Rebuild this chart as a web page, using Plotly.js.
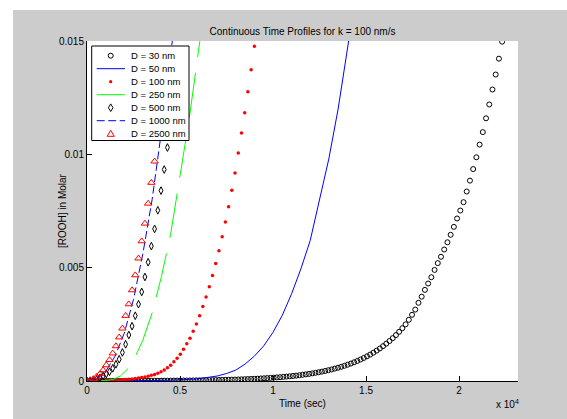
<!DOCTYPE html>
<html><head><meta charset="utf-8">
<script src="https://cdn.plot.ly/plotly-3.0.1.min.js"></script>
<style>
html,body{margin:0;padding:0;background:#fff;width:567px;height:419px;overflow:hidden;}
#chart{position:absolute;left:13px;top:10px;width:554px;height:409px;}
</style></head><body><div id="chart"></div>
<script>
// ---- data (time in seconds, [ROOH] in Molar) ----
const SEC_PER_STEP = 173;
const diameterLabels = ['D = 30 nm','D = 50 nm','D = 100 nm','D = 250 nm','D = 500 nm','D = 1000 nm','D = 2500 nm'];
const xTickVals = [0, 5000, 10000, 15000, 20000];
const xTickText = ['0','0.5','1','1.5','2'];
const yTickVals = [0, 0.005, 0.01, 0.015];
const yTickText = ['0','0.005','0.01','0.015'];

const rooh_D30 = [0,0.0000005,0.000001,0.000001,0.000001,0.000001,0.000002,0.000002,0.000002,0.000003,
0.000003,0.000004,0.000004,0.000005,0.000005,0.000006,0.000006,0.000007,0.000008,0.000008,
0.000009,0.00001,0.000011,0.000012,0.000013,0.000014,0.000015,0.000017,0.000018,0.000019,
0.000021,0.000022,0.000024,0.000026,0.000028,0.00003,0.000032,0.000034,0.000037,0.00004,
0.000042,0.000045,0.000049,0.000052,0.000056,0.00006,0.000064,0.000069,0.000074,0.000079,
0.000085,0.000091,0.000097,0.000104,0.000112,0.00012,0.000128,0.000137,0.000147,0.000158,
0.000169,0.000181,0.000194,0.000208,0.000222,0.000238,0.000255,0.000274,0.000293,0.000314,
0.000337,0.000361,0.000386,0.000414,0.000444,0.000475,0.000509,0.000546,0.000585,0.000627,
0.000671,0.000719,0.000771,0.000826,0.000885,0.000948,0.001016,0.001088,0.001166,0.001249,
0.001339,0.001434,0.001537,0.001647,0.001764,0.00189,0.002025,0.00217,0.00233,0.0025,
0.0027,0.00292,0.00315,0.00345,0.00372,0.00402,0.0043,0.00458,0.0049,0.0052,
0.00548,0.0058,0.00612,0.00645,0.0068,0.00717,0.00752,0.00789,0.00836,0.00884,
0.00935,0.00987,0.01043,0.01098,0.01159,0.0122,0.01286,0.01352,0.01422,0.01497];

const t_D50 = [0,2000,3000,4000,5000,6000,7000,7500,8000,8500,9000,9500,10000,10500,11000,11500,12000,12500,13000,13500,14000,14500];
const rooh_D50 = [0,0.000003,0.00001,0.000025,0.00005,0.0001,0.00022,0.00033,0.00048,0.00075,0.0011,0.00155,0.00215,0.0029,0.00385,0.00495,0.0062,0.00795,0.0098,0.012,0.0146,0.0173];

const rooh_D100 = [0,0.000001,0.000002,0.000004,0.000007,0.00001,0.000014,0.000019,0.000025,0.000032,
0.00004,0.00005,0.000062,0.000075,0.00009,0.00011,0.00013,0.00015,0.00018,0.00021,
0.00025,0.00029,0.00034,0.00041,0.00048,0.00059,0.0007,0.00085,0.001,0.00118,
0.0014,0.00164,0.00189,0.00219,0.00252,0.00288,0.00329,0.00371,0.00416,0.00465,
0.00518,0.00575,0.00636,0.00701,0.00769,0.00841,0.00918,0.01006,0.01094,0.01184,
0.01276,0.01373,0.01477];

const t_D250 = [0,500,1000,1400,1800,2200,2600,3000,3500,4000,4500,5000,5500,6000,6200];
const rooh_D250 = [0,0.000003,0.00002,0.00007,0.00022,0.00054,0.00108,0.0018,0.003,0.0046,0.0065,0.00905,0.0116,0.0146,0.0158];

const rooh_D500 = [0,0.00001,0.00003,0.00007,0.00014,0.00022,0.00031,0.00041,0.00056,0.00074,
0.00096,0.00126,0.00162,0.00203,0.00242,0.00288,0.00339,0.00393,0.00459,0.00524,
0.00595,0.00671,0.00753,0.0084,0.00933,0.0103,0.0113,0.01235,0.01345,0.0146];

const t_D1000 = [0,500,1000,1500,2000,2500,3000,3500,4000,4300,4600];
const rooh_D1000 = [0,0.00008,0.00042,0.00108,0.0021,0.0036,0.0056,0.008,0.011,0.0131,0.0151];

const rooh_D2500 = [0,0.00004,0.00009,0.00019,0.00031,0.00048,0.0007,0.00093,0.00122,0.00154,
0.00193,0.00232,0.00288,0.00339,0.00401,0.00467,0.00541,0.00617,0.00695,0.00783,
0.00875,0.00969,0.01075,0.01185,0.01295,0.01405];

// ---- geometry (page pixels) ----
const G = {left:87, right:518, top:41, bottom:381, offX:13, offY:10, figW:554, figH:409};
const PW = G.right - G.left, PH = G.bottom - G.top;
const fx = px => (px - G.left) / PW;
const fy = py => (G.bottom - py) / PH;
const FONT = 'Liberation Sans, Arial, Helvetica, sans-serif';

const traces = [
  {type:'scatter', mode:'markers', name:diameterLabels[0], x0:0, dx:SEC_PER_STEP, y:rooh_D30,
   marker:{symbol:'circle-open', size:5, color:'#000000', line:{width:1, color:'#000000'}}},
  {type:'scatter', mode:'lines', name:diameterLabels[1], x:t_D50, y:rooh_D50,
   line:{color:'#0000ff', width:1}},
  {type:'scatter', mode:'markers', name:diameterLabels[2], x0:0, dx:SEC_PER_STEP, y:rooh_D100,
   marker:{symbol:'circle', size:3.5, color:'#ff0000'}},
  {type:'scatter', mode:'lines', name:diameterLabels[3], x:t_D250, y:rooh_D250,
   line:{color:'#00ff00', width:1, dash:'45px,16px'}},
  {type:'scatter', mode:'markers', name:diameterLabels[4], x0:0, dx:SEC_PER_STEP, y:rooh_D500,
   marker:{symbol:'diamond-tall-open', size:5.5, color:'#000000', line:{width:1, color:'#000000'}}},
  {type:'scatter', mode:'lines', name:diameterLabels[5], x:t_D1000, y:rooh_D1000,
   line:{color:'#0000ff', width:1, dash:'8px,3.5px'}},
  {type:'scatter', mode:'markers', name:diameterLabels[6], x0:0, dx:SEC_PER_STEP, y:rooh_D2500,
   marker:{symbol:'triangle-up-open', size:6.5, color:'#ff0000', line:{width:1, color:'#ff0000'}}}
];
traces.forEach(t => { t.showlegend = false; t.hoverinfo = 'skip'; });

// ---- hand-made MATLAB-style legend ----
const LEG = {x0:91.7, x1:189, y0:46, y1:140.5, row0:55.7, rowStep:13, symX:110.7, lineX0:96.7, lineX1:125, textX:129};
const rowY = k => LEG.row0 + LEG.rowStep * k;
const shapes = [
  {type:'rect', xref:'paper', yref:'paper', x0:fx(LEG.x0), x1:fx(LEG.x1), y0:fy(LEG.y1), y1:fy(LEG.y0),
   fillcolor:'#ffffff', line:{color:'#000000', width:1}, layer:'above'}
];
function pixShape(k, extra) {
  return Object.assign({xref:'paper', yref:'paper', xsizemode:'pixel', ysizemode:'pixel',
    xanchor:fx(LEG.symX), yanchor:fy(rowY(k)), layer:'above'}, extra);
}
function legLine(k, line) {
  return {type:'line', xref:'paper', yref:'paper', x0:fx(LEG.lineX0), x1:fx(LEG.lineX1),
    y0:fy(rowY(k)), y1:fy(rowY(k)), line:line, layer:'above'};
}
shapes.push(pixShape(0, {type:'circle', x0:-2.5, x1:2.5, y0:-2.5, y1:2.5, line:{color:'#000000', width:1}}));
shapes.push(legLine(1, {color:'#0000ff', width:1}));
shapes.push(pixShape(2, {type:'circle', x0:-1.6, x1:1.6, y0:-1.6, y1:1.6, fillcolor:'#ff0000', line:{width:0}}));
shapes.push(legLine(3, {color:'#00ff00', width:1}));
shapes.push(pixShape(4, {type:'path', path:'M0,3.8 L2.3,0 L0,-3.8 L-2.3,0 Z', line:{color:'#000000', width:1}}));
shapes.push(legLine(5, {color:'#0000ff', width:1, dash:'8px,3.5px'}));
shapes.push(pixShape(6, {type:'path', path:'M-3.6,-2.6 L3.6,-2.6 L0,3.4 Z', line:{color:'#ff0000', width:1}}));

const annotations = diameterLabels.map((lab, k) => ({
  text:lab, xref:'paper', yref:'paper', x:fx(LEG.textX), y:fy(rowY(k)), xanchor:'left', yanchor:'middle',
  showarrow:false, font:{family:FONT, size:9.5, color:'#000000'}
}));
annotations.push({text:'[ROOH] in Molar', xref:'paper', yref:'paper', x:fx(62), y:0.5, textangle:-90,
  xanchor:'center', yanchor:'middle', showarrow:false, font:{family:FONT, size:10, color:'#000000'}});
annotations.push({text:'x 10<sup>4</sup>', xref:'paper', yref:'paper', x:fx(521), y:fy(404), xanchor:'right', yanchor:'middle',
  showarrow:false, font:{family:FONT, size:10, color:'#000000'}});

const layout = {
  width:G.figW, height:G.figH,
  paper_bgcolor:'#cccccc', plot_bgcolor:'#ffffff',
  margin:{l:G.left-G.offX, r:G.offX+G.figW-G.right, t:G.top-G.offY, b:G.offY+G.figH-G.bottom, pad:0, autoexpand:false},
  font:{family:FONT, size:10, color:'#000000'},
  title:{text:'Continuous Time Profiles for k = 100 nm/s', x:0.5, xref:'paper', xanchor:'center',
         y:1-(31-G.offY)/G.figH, yref:'container', yanchor:'middle', font:{family:FONT, size:10, color:'#000000'}},
  showlegend:false,
  xaxis:{range:[0, 23170], tickmode:'array', tickvals:xTickVals, ticktext:xTickText,
         ticks:'inside', ticklen:5, tickwidth:1, tickcolor:'#000000',
         showline:true, linecolor:'#000000', linewidth:1, mirror:false,
         showgrid:false, zeroline:false, automargin:false,
         tickfont:{family:FONT, size:10, color:'#000000'},
         title:{text:'Time (sec)', standoff:4, font:{family:FONT, size:10, color:'#000000'}}},
  yaxis:{range:[0, 0.015], tickmode:'array', tickvals:yTickVals, ticktext:yTickText,
         ticks:'inside', ticklen:5, tickwidth:1, tickcolor:'#000000',
         showline:true, linecolor:'#000000', linewidth:1, mirror:false,
         showgrid:false, zeroline:false, automargin:false,
         tickfont:{family:FONT, size:10, color:'#000000'}},
  shapes:shapes,
  annotations:annotations
};

Plotly.newPlot('chart', traces, layout, {staticPlot:true, displayModeBar:false});
</script>
</body></html>
